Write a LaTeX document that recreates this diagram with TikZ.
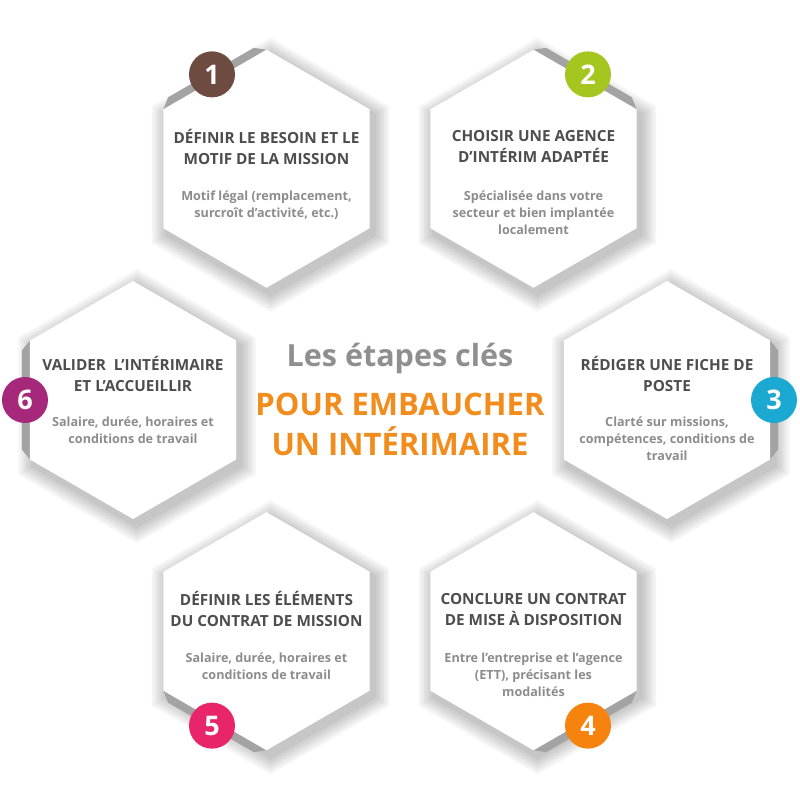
\documentclass[tikz,border=0pt]{standalone}
\usepackage{fontspec}
\setmainfont{Open Sans}
\usetikzlibrary{calc}

\definecolor{titlegray}{HTML}{4D4D4D}
\definecolor{bodygray}{HTML}{8C8C8C}
\definecolor{headgray}{HTML}{8F8F8F}
\definecolor{headorange}{HTML}{F28C1C}
\definecolor{stepbrown}{HTML}{6E4B40}
\definecolor{steplime}{HTML}{A5C61E}
\definecolor{stepcyan}{HTML}{1BA8D1}
\definecolor{steporange}{HTML}{F5830E}
\definecolor{steppink}{HTML}{E8246A}
\definecolor{stepplum}{HTML}{A6287A}

\begin{document}
\begin{tikzpicture}[x=1pt,y=1pt]
\tikzset{
	hexshadow/.style={fill=black, opacity=0.04},
	hexside/.style={fill=gray!72},
	hexbody/.style={fill=white},
	numdot/.style={circle,
		minimum size=46pt,
		inner sep=0pt,
		text=white,
		font=\fontsize{27}{27}\selectfont\bfseries},
	steptitle/.style={align=center, text=titlegray, font=\fontsize{15.3}{21}\selectfont\bfseries},
	steptext/.style={align=center, anchor=north, inner sep=0pt, text=bodygray, font=\fontsize{12.6}{17}\selectfont\bfseries}
}

\fill[white] (-400,-400) rectangle (400,400);
\useasboundingbox (-400,-400) rectangle (400,400);

% centres of the six cards, on a ring
\coordinate (H1) at (120:267);
\coordinate (H2) at (60:267);
\coordinate (H3) at (0:267);
\coordinate (H4) at (-60:267);
\coordinate (H5) at (-120:267);
\coordinate (H6) at (180:267);

% soft shadows
\foreach \a in {120,60,0,-60,-120,180} {
	\foreach \s in {18,15,...,1}
		\fill[hexshadow] ($(\a:267)+(4,-6)$) +(90:{119+\s}) -- +(150:{119+\s}) -- +(210:{119+\s}) -- +(270:{119+\s}) -- +(330:{119+\s}) -- +(30:{119+\s}) -- cycle;
}

% grey side face on the outer edge, then the white card
\foreach \a in {120,60,0,-60,-120,180} {
	\fill[hexside] ($(\a:267)+(\a+30:119)$) -- ($(\a:267)+(\a+30:119)+(\a:8)+(\a-90:10)$)
		-- ($(\a:267)+(\a-30:119)+(\a:8)+(\a+90:10)$) -- ($(\a:267)+(\a-30:119)$) -- cycle;
	\fill[hexbody] (\a:267) +(90:119) -- +(150:119) -- +(210:119) -- +(270:119) -- +(330:119) -- +(30:119) -- cycle;
}

\node[numdot, fill=stepbrown] (N1) at ($(H1)+(120:109)$) {1};
\node[numdot, fill=steplime] (N2) at ($(H2)+(60:109)$) {2};
\node[numdot, fill=stepcyan] (N3) at ($(H3)+(0:107)$) {3};
\node[numdot, fill=steporange] (N4) at ($(H4)+(-60:109)$) {4};
\node[numdot, fill=steppink] (N5) at ($(H5)+(-120:109)$) {5};
\node[numdot, fill=stepplum] (N6) at ($(H6)+(180:108)$) {6};

\node[steptitle] (T1) at ($(H1)+(0,22)$) {DÉFINIR LE BESOIN ET LE\\MOTIF DE LA MISSION};
\node[steptext] (D1) at ($(H1)+(0,-22)$) {Motif légal (remplacement,\\surcroît d’activité, etc.)};

\node[steptitle] (T2) at ($(H2)+(0,22)$) {CHOISIR UNE AGENCE\\D’INTÉRIM ADAPTÉE};
\node[steptext] (D2) at ($(H2)+(0,-22)$) {Spécialisée dans votre\\secteur et bien implantée\\localement};

\node[steptitle] (T3) at ($(H3)+(0,26)$) {RÉDIGER UNE FICHE DE\\POSTE};
\node[steptext] (D3) at ($(H3)+(0,-17)$) {Clarté sur missions,\\compétences, conditions de\\travail};

\node[steptitle] (T4) at ($(H4)+(0,22)$) {CONCLURE UN CONTRAT\\DE MISE À DISPOSITION};
\node[steptext] (D4) at ($(H4)+(0,-21)$) {Entre l’entreprise et l’agence\\(ETT), précisant les\\modalités};

\node[steptitle] (T5) at ($(H5)+(0,22)$) {DÉFINIR LES ÉLÉMENTS\\DU CONTRAT DE MISSION};
\node[steptext] (D5) at ($(H5)+(0,-21)$) {Salaire, durée, horaires et\\conditions de travail};

\node[steptitle] (T6) at ($(H6)+(0,26)$) {VALIDER\ \ L’INTÉRIMAIRE\\ET L’ACCUEILLIR};
\node[steptext] (D6) at ($(H6)+(0,-17)$) {Salaire, durée, horaires et\\conditions de travail};

% title in the middle
\node[text=headgray, font=\fontsize{30.5}{30.5}\selectfont\bfseries] (head) at (0,42) {Les étapes clés};
\node[align=center, text=headorange, font=\fontsize{31}{40}\selectfont\bfseries] (sub) at (0,-24) {POUR EMBAUCHER\\UN INTÉRIMAIRE};
\end{tikzpicture}
\end{document}
